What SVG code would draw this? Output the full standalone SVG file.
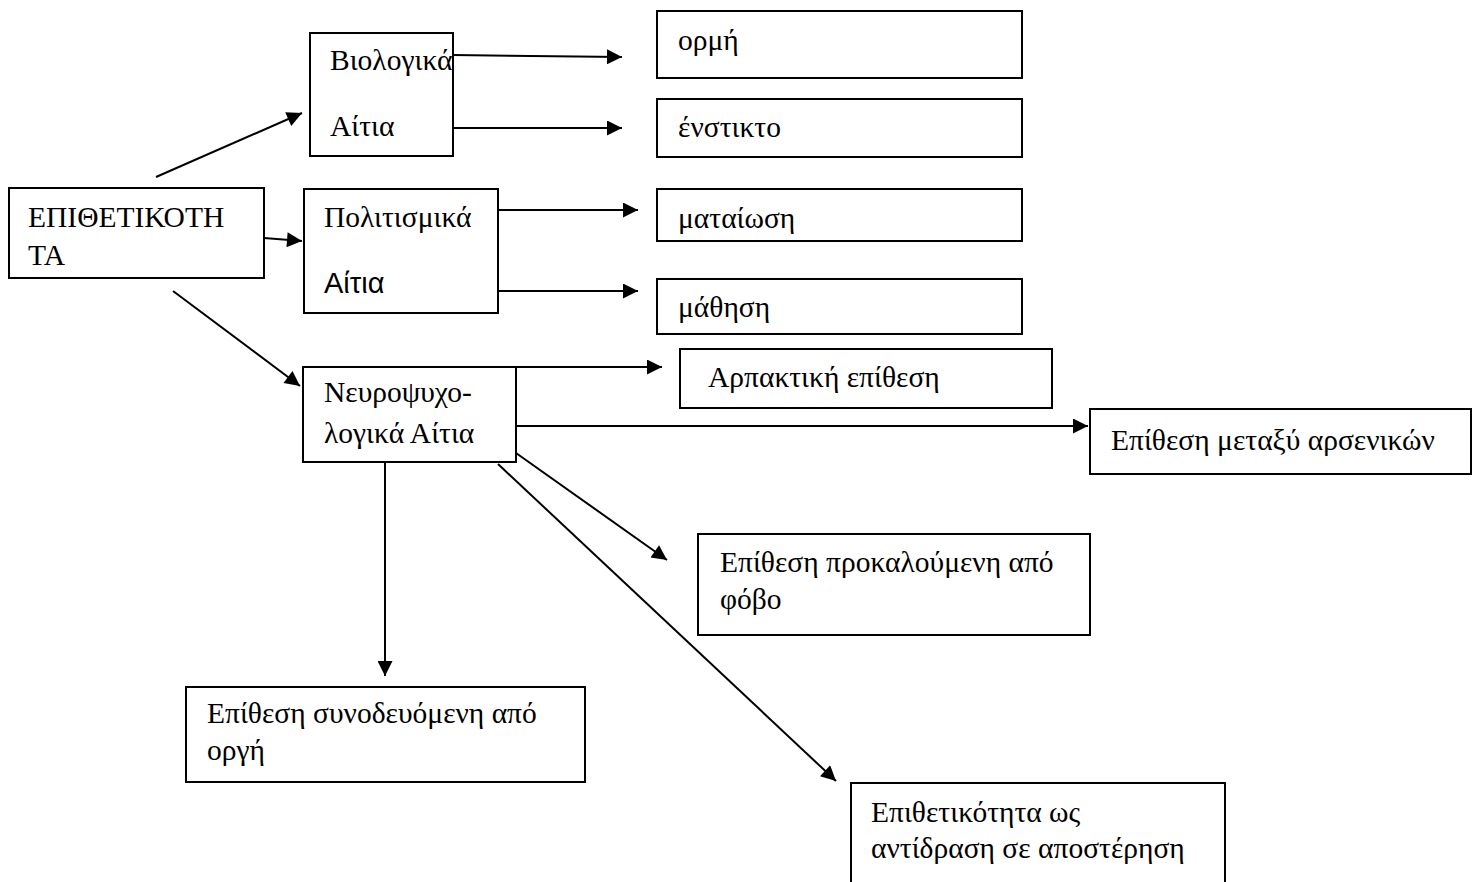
<svg xmlns="http://www.w3.org/2000/svg" width="1478" height="882" viewBox="0 0 1478 882">
<style>
.box{fill:#fff;stroke:#000;stroke-width:2}
.t{font-family:"Liberation Serif","Times New Roman",serif;font-size:29.5px;fill:#000}
.s{font-family:"Liberation Sans",Arial,sans-serif;font-size:29px;fill:#000}
.c line{stroke:#000;stroke-width:2;marker-end:url(#ah)}
</style>
<defs>
<marker id="ah" viewBox="0 0 10 10" refX="10" refY="5" markerWidth="8" markerHeight="7.5" markerUnits="strokeWidth" orient="auto">
<path d="M0,0 L10,5 L0,10 z" fill="#000"/>
</marker>
</defs>
<rect width="1478" height="882" fill="#fff"/>
<g id="n-epith"><rect class="box" x="9" y="188" width="255" height="90"/><text class="t" x="28" y="227">ΕΠΙΘΕΤΙΚΟΤΗ</text><text class="t" x="28" y="265">ΤΑ</text></g>
<g id="n-bio"><rect class="box" x="310" y="33" width="143" height="123"/><text class="t" x="330" y="70">Βιολογικά</text><text class="t" x="330" y="136">Αίτια</text></g>
<g id="n-pol"><rect class="box" x="304" y="189" width="194" height="124"/><text class="t" x="324" y="227">Πολιτισμικά</text><text class="s" x="324" y="293">Αίτια</text></g>
<g id="n-neuro"><rect class="box" x="303" y="367" width="213" height="95"/><text class="t" x="324" y="402">Νευροψυχο-</text><text class="t" x="324" y="443">λογικά Αίτια</text></g>
<g id="n-ormi"><rect class="box" x="657" y="11" width="365" height="67"/><text class="t" x="678" y="50">ορμή</text></g>
<g id="n-enst"><rect class="box" x="657" y="99" width="365" height="58"/><text class="t" x="678" y="137">ένστικτο</text></g>
<g id="n-mat"><rect class="box" x="657" y="189" width="365" height="52"/><text class="t" x="678" y="228">ματαίωση</text></g>
<g id="n-math"><rect class="box" x="657" y="279" width="365" height="55"/><text class="t" x="678" y="317">μάθηση</text></g>
<g id="n-arp"><rect class="box" x="680" y="349" width="372" height="59"/><text class="t" x="708" y="387">Αρπακτική επίθεση</text></g>
<g id="n-ars"><rect class="box" x="1090" y="409" width="381" height="65"/><text class="t" x="1111" y="450">Επίθεση μεταξύ αρσενικών</text></g>
<g id="n-fob"><rect class="box" x="698" y="534" width="392" height="101"/><text class="t" x="720" y="572">Επίθεση προκαλούμενη από</text><text class="t" x="720" y="609">φόβο</text></g>
<g id="n-org"><rect class="box" x="186" y="687" width="399" height="95"/><text class="t" x="207" y="723">Επίθεση συνοδευόμενη από</text><text class="t" x="207" y="760">οργή</text></g>
<g id="n-apost"><rect class="box" x="851" y="783" width="374" height="110"/><text class="t" x="871" y="822">Επιθετικότητα ως</text><text class="t" x="871" y="858">αντίδραση σε αποστέρηση</text></g>
<g id="connectors" class="c">
<line x1="156" y1="177" x2="302" y2="113"/>
<line x1="264" y1="238" x2="302" y2="241"/>
<line x1="173" y1="291" x2="300" y2="386"/>
<line x1="453" y1="55" x2="622" y2="57"/>
<line x1="453" y1="128" x2="622" y2="128"/>
<line x1="498" y1="210" x2="638" y2="210"/>
<line x1="498" y1="291" x2="638" y2="291"/>
<line x1="516" y1="367" x2="662" y2="367"/>
<line x1="516" y1="426" x2="1088" y2="426"/>
<line x1="516" y1="453" x2="667" y2="560"/>
<line x1="385" y1="462" x2="385" y2="676"/>
<line x1="498" y1="464" x2="836" y2="781"/>
</g>
</svg>
